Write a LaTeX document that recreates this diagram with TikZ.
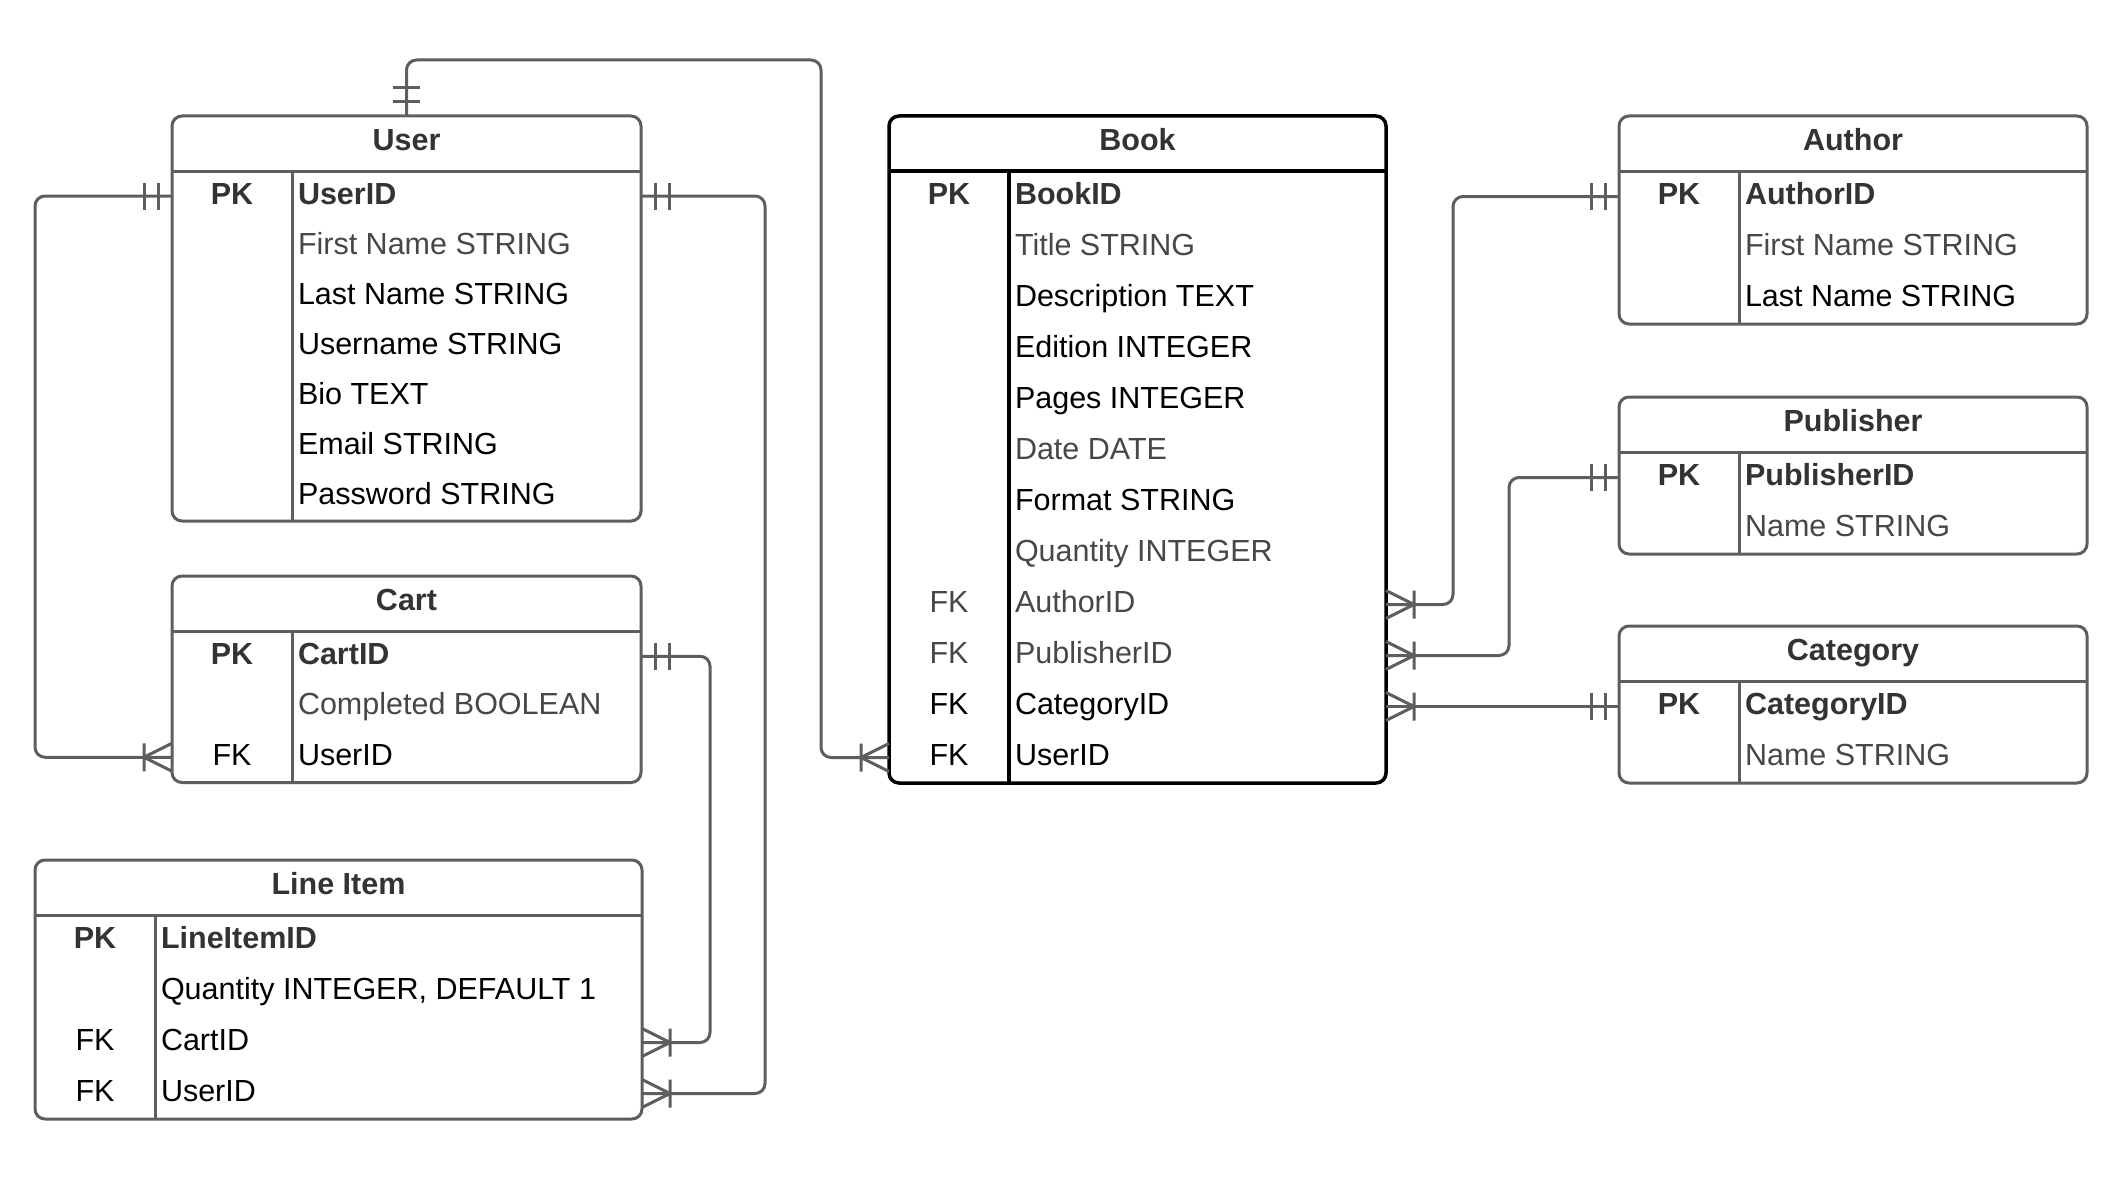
\documentclass[tikz,border=0pt]{standalone}
\usepackage{fontspec}
\setmainfont{Liberation Sans}
\definecolor{ink}{HTML}{333333}
\definecolor{soft}{HTML}{474747}
\definecolor{linegray}{HTML}{5E5E5E}

% ---- entity table: name, x, y, width, rows, row height, title, frame style
\newcommand\ertable[8]{%
  \def\ername{#1}\def\erx{#2}\def\ery{#3}\def\erw{#4}\def\errh{#6}%
  \pgfmathsetmacro\erh{55+#5*#6}%
  \node[tablebox,#8,minimum width=#4pt,minimum height=\erh pt] (#1) at (#2,#3) {};
  \draw[#8] (#2,#3+55) -- (#2+#4,#3+55);
  \draw[#8] (#2+120,#3+55) -- (#2+120,#3+\erh);
  \node[bk,anchor=base] (#1-title) at (#2+#4/2,#3+34.5) {#7};
}
% ---- table row: index, key style, key, field style, field
\newcommand\errow[5]{%
  \pgfmathsetmacro\ercy{\ery+55+(#1-0.5)*\errh}%
  \coordinate (\ername-r#1-w) at (\erx,\ercy);
  \coordinate (\ername-r#1-e) at (\erx+\erw,\ercy);
  \node[#2,anchor=base] (\ername-k#1) at (\erx+60,\ercy+8) {#3};
  \node[#4,anchor=base west] (\ername-f#1) at (\erx+126,\ercy+8) {#5};
}

\tikzset{
  every node/.style={inner sep=0pt,outer sep=0pt,font=\fontsize{30.5}{36}\selectfont},
  tablebox/.style={fill=white,rounded corners=10pt,anchor=north west},
  frame/.style={draw=linegray,line width=3pt},
  bookframe/.style={draw=black,line width=3.5pt},
  bk/.style={text=ink,font=\fontsize{30.5}{36}\selectfont\bfseries},
  blk/.style={text=black},
  gry/.style={text=soft},
  conn/.style={draw=linegray,line width=3pt},
  route/.style={conn,rounded corners=10pt},
  onemark/.pic={\draw[conn] (14,-13.5) -- (14,13.5) (28,-13.5) -- (28,13.5);},
  manymark/.pic={\draw[conn] (28,-14) -- (28,14) (0,-14) -- (28,0) -- (0,14);},
}

\begin{document}
\begin{tikzpicture}[x=1pt,y=-1pt]
\fill[white] (0,0) rectangle (2124,1180);
\useasboundingbox (0,0) rectangle (2124,1180);

% ---------- tables
\ertable{user}{172}{116}{469}{7}{50}{User}{frame}
\errow{1}{bk}{PK}{bk}{UserID}
\errow{2}{blk}{}{gry}{First Name STRING}
\errow{3}{blk}{}{blk}{Last Name STRING}
\errow{4}{blk}{}{blk}{Username STRING}
\errow{5}{blk}{}{blk}{Bio TEXT}
\errow{6}{blk}{}{blk}{Email STRING}
\errow{7}{blk}{}{blk}{Password STRING}

\ertable{cart}{172}{576}{469}{3}{50.5}{Cart}{frame}
\errow{1}{bk}{PK}{bk}{CartID}
\errow{2}{blk}{}{gry}{Completed BOOLEAN}
\errow{3}{blk}{FK}{blk}{UserID}

\ertable{lineitem}{35}{860}{607}{4}{51}{Line Item}{frame}
\errow{1}{bk}{PK}{bk}{LineItemID}
\errow{2}{blk}{}{blk}{Quantity INTEGER, DEFAULT 1}
\errow{3}{blk}{FK}{blk}{CartID}
\errow{4}{blk}{FK}{blk}{UserID}

\ertable{book}{889}{116}{497}{12}{51}{Book}{bookframe}
\errow{1}{bk}{PK}{bk}{BookID}
\errow{2}{blk}{}{gry}{Title STRING}
\errow{3}{blk}{}{blk}{Description TEXT}
\errow{4}{blk}{}{blk}{Edition INTEGER}
\errow{5}{blk}{}{blk}{Pages INTEGER}
\errow{6}{blk}{}{gry}{Date DATE}
\errow{7}{blk}{}{blk}{Format STRING}
\errow{8}{blk}{}{gry}{Quantity INTEGER}
\errow{9}{gry}{FK}{gry}{AuthorID}
\errow{10}{gry}{FK}{gry}{PublisherID}
\errow{11}{blk}{FK}{blk}{CategoryID}
\errow{12}{blk}{FK}{blk}{UserID}

\ertable{author}{1619}{116}{468}{3}{51}{Author}{frame}
\errow{1}{bk}{PK}{bk}{AuthorID}
\errow{2}{blk}{}{gry}{First Name STRING}
\errow{3}{blk}{}{blk}{Last Name STRING}

\ertable{publisher}{1619}{397}{468}{2}{51}{Publisher}{frame}
\errow{1}{bk}{PK}{bk}{PublisherID}
\errow{2}{blk}{}{gry}{Name STRING}

\ertable{category}{1619}{626}{468}{2}{51}{Category}{frame}
\errow{1}{bk}{PK}{bk}{CategoryID}
\errow{2}{blk}{}{gry}{Name STRING}

% ---------- relationships
\draw[route] (user.north) |- (821,60) |- (book-r12-w);
\pic[rotate=90] at (user.north) {onemark};
\pic[rotate=180] at (book-r12-w) {manymark};

\draw[route] (user-r1-w) -- ++(-137,0) |- (cart-r3-w);
\pic[rotate=180] at (user-r1-w) {onemark};
\pic[rotate=180] at (cart-r3-w) {manymark};

\draw[route] (user-r1-e) -- ++(124,0) |- (lineitem-r4-e);
\pic at (user-r1-e) {onemark};
\pic at (lineitem-r4-e) {manymark};

\draw[route] (cart-r1-e) -- ++(69,0) |- (lineitem-r3-e);
\pic at (cart-r1-e) {onemark};
\pic at (lineitem-r3-e) {manymark};

\draw[route] (author-r1-w) -- ++(-166,0) |- (book-r9-e);
\pic[rotate=180] at (author-r1-w) {onemark};
\pic at (book-r9-e) {manymark};

\draw[route] (publisher-r1-w) -- ++(-110,0) |- (book-r10-e);
\pic[rotate=180] at (publisher-r1-w) {onemark};
\pic at (book-r10-e) {manymark};

\draw[route] (category-r1-w) -- (book-r11-e);
\pic[rotate=180] at (category-r1-w) {onemark};
\pic at (book-r11-e) {manymark};
\end{tikzpicture}
\end{document}
